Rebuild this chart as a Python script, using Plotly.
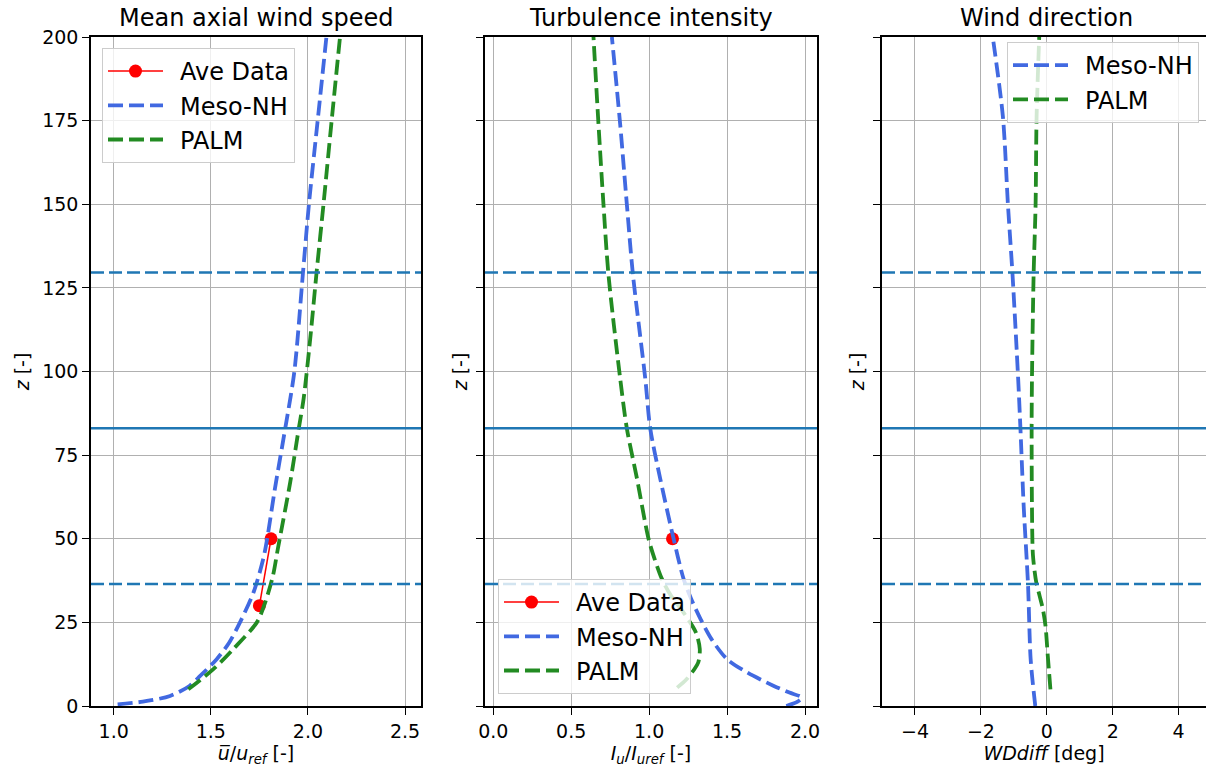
import plotly.graph_objects as go

# ---------------- data ----------------
# Panel 1: mean axial wind speed
meso_u_z = [0.5, 1.3, 3, 6, 9, 14, 19, 25, 34, 44, 50, 65, 83, 100, 130, 150, 175, 200]
meso_u = [1.02, 1.15, 1.29, 1.39, 1.445, 1.53, 1.595, 1.65, 1.72, 1.77, 1.79, 1.83, 1.883, 1.93, 1.975, 2.005, 2.05, 2.095]
palm_u_z = [5, 11, 17, 25, 31, 39, 47, 67, 82, 92, 110, 130, 150, 175, 200]
palm_u = [1.384, 1.513, 1.615, 1.737, 1.78, 1.82, 1.845, 1.909, 1.95, 1.978, 2.012, 2.045, 2.08, 2.122, 2.165]
obs_u_z = [30, 50]
obs_u = [1.75, 1.81]

# Panel 2: turbulence intensity
meso_ti_z = [0, 1.2, 2.5, 4, 6, 10, 14, 20, 26, 32, 38, 50, 68, 83, 98, 129, 150, 174, 200]
meso_ti = [1.88, 1.95, 1.98, 1.9, 1.8, 1.63, 1.5, 1.4, 1.33, 1.27, 1.221, 1.157, 1.071, 1.007, 0.975, 0.896, 0.857, 0.814, 0.761]
palm_ti_z = [5.5, 8, 11, 13, 17, 22, 28, 33, 38, 44, 50, 68, 83, 98, 129, 150, 174, 200]
palm_ti = [1.18, 1.24, 1.29, 1.315, 1.325, 1.30, 1.22, 1.14, 1.082, 1.035, 0.996, 0.922, 0.857, 0.814, 0.739, 0.707, 0.675, 0.643]
obs_ti_z = [50]
obs_ti = [1.15]

# Panel 3: wind direction difference
meso_wd_z = [0, 14, 36.4, 59.5, 83, 98, 129, 150, 176, 200]
meso_wd = [-0.35, -0.49, -0.57, -0.70, -0.80, -0.87, -1.04, -1.18, -1.33, -1.64]
palm_wd_z = [5, 15, 24, 29, 33, 37, 45, 59.5, 83, 98, 129, 150, 176, 200]
palm_wd = [0.11, 0.03, -0.04, -0.12, -0.22, -0.32, -0.42, -0.45, -0.46, -0.45, -0.40, -0.34, -0.31, -0.23]

# Rotor heights
hub_height = 83
rotor_top = 129.6
rotor_bottom = 36.5

titles = ["Mean axial wind speed", "Turbulence intensity", "Wind direction"]
xlabels = ["<i>u\u0305</i>/<i>u</i><sub><i>ref</i></sub> [-]",
           "<i>I</i><sub><i>u</i></sub>/<i>I</i><sub><i>uref</i></sub> [-]",
           "<i>WDdiff</i> [deg]"]
ylabel = "<i>z</i> [-]"
y_ticks = [0, 25, 50, 75, 100, 125, 150, 175, 200]
legend_names = ["Ave Data", "Meso-NH", "PALM"]

# ---------------- style ----------------
W, H = 1206, 776
FONT = "DejaVu Sans"
BLUE = "#4169E1"
GREEN = "#228B22"
C0 = "#1f77b4"
GRID = "#b0b0b0"


def fx(px):
    return px / W


def fy(py):
    return 1 - py / H


doms = [[fx(91), fx(421)], [fx(485), fx(817)], [fx(882), 1.0]]
ydom = [fy(706), fy(37)]
xranges = [[0.883, 2.582], [-0.053, 2.077], [-5.0, 4.83]]
xdticks = [0.5, 0.5, 2]
xfmt = [".1f", ".1f", "d"]
title_cx = [256, 651, 1046]

fig = go.Figure()

panels = [
    (meso_u, meso_u_z, palm_u, palm_u_z, obs_u, obs_u_z),
    (meso_ti, meso_ti_z, palm_ti, palm_ti_z, obs_ti, obs_ti_z),
    (meso_wd, meso_wd_z, palm_wd, palm_wd_z, None, None),
]
legends = ["legend", "legend2", "legend3"]
pad = "\u2002"

for i, (mx, mz, px, pz, ox, oz) in enumerate(panels):
    xa = "x" if i == 0 else f"x{i+1}"
    ya = "y" if i == 0 else f"y{i+1}"
    if ox is not None:
        fig.add_trace(go.Scatter(x=ox, y=oz, mode="lines+markers", name=pad + legend_names[0],
                                 line=dict(color="red", width=1.5),
                                 marker=dict(color="red", size=13),
                                 xaxis=xa, yaxis=ya, legend=legends[i]))
    fig.add_trace(go.Scatter(x=mx, y=mz, mode="lines", name=pad + legend_names[1],
                             line=dict(color=BLUE, width=3.8, dash="15px,6px", shape="spline", smoothing=0.8),
                             xaxis=xa, yaxis=ya, legend=legends[i]))
    fig.add_trace(go.Scatter(x=px, y=pz, mode="lines", name=pad + legend_names[2],
                             line=dict(color=GREEN, width=3.8, dash="15px,6px", shape="spline", smoothing=0.8),
                             xaxis=xa, yaxis=ya, legend=legends[i]))
    for zval, dash in [(hub_height, "solid"), (rotor_top, "13px,5px"), (rotor_bottom, "13px,5px")]:
        fig.add_shape(type="line", xref=f"{xa} domain", yref=ya, x0=0, x1=1, y0=zval, y1=zval,
                      line=dict(color=C0, width=2.5, dash=dash), layer="above")

    axis_common = dict(showgrid=True, gridcolor=GRID, gridwidth=1.3, zeroline=False,
                       showline=True, linecolor="black", linewidth=1.5, automargin=False,
                       ticks="outside", ticklen=7, tickwidth=1.3, tickcolor="black",
                       tickfont=dict(family=FONT, size=19, color="black"))
    xkey = "xaxis" if i == 0 else f"xaxis{i+1}"
    ykey = "yaxis" if i == 0 else f"yaxis{i+1}"
    fig.update_layout(**{
        xkey: dict(axis_common, domain=doms[i], anchor=ya, range=xranges[i], dtick=xdticks[i],
                   tick0=0, tickformat=xfmt[i], mirror=True,
                   title=dict(text=xlabels[i], font=dict(family=FONT, size=19, color="black"), standoff=6)),
        ykey: dict(axis_common, domain=ydom, anchor=xa, range=[0, 200], tickvals=y_ticks,
                   showticklabels=(i == 0), mirror=(i < 2),
                   title=dict(text=ylabel, font=dict(family=FONT, size=19, color="black"),
                              standoff=8 if i == 0 else 4)),
    })
    fig.add_annotation(text=titles[i], xref="paper", yref="paper", x=fx(title_cx[i]), y=fy(18),
                       xanchor="center", yanchor="middle", showarrow=False,
                       font=dict(family=FONT, size=24, color="black"))

leg_common = dict(bgcolor="rgba(255,255,255,0.8)", bordercolor="#cccccc", borderwidth=1,
                  font=dict(family=FONT, size=24, color="black"), itemwidth=55,
                  tracegroupgap=0)
fig.update_layout(
    width=W, height=H,
    margin=dict(l=0, r=0, t=0, b=0, autoexpand=False),
    paper_bgcolor="white", plot_bgcolor="white",
    legend=dict(leg_common, x=fx(102), y=fy(48), xanchor="left", yanchor="top"),
    legend2=dict(leg_common, x=fx(498), y=fy(694), xanchor="left", yanchor="bottom"),
    legend3=dict(leg_common, x=fx(1199), y=fy(42), xanchor="right", yanchor="top"),
)

fig.write_html("out.html", config={"displayModeBar": False},
               post_script="document.body.style.margin='0';document.body.style.overflow='hidden';")
